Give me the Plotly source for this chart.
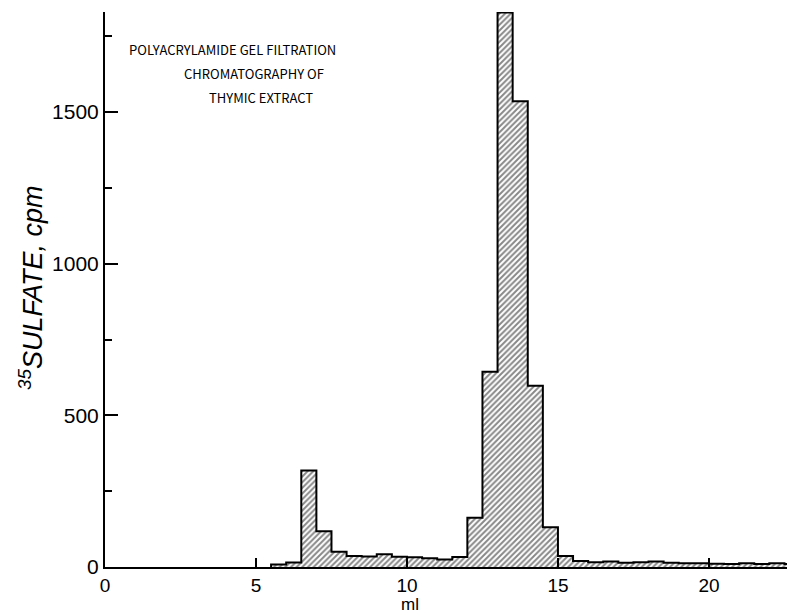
import plotly.graph_objects as go

# Fraction start positions (ml) - each fraction is 0.5 ml wide
ml_start = [5.5, 6.0, 6.5, 7.0, 7.5, 8.0, 8.5, 9.0, 9.5, 10.0, 10.5, 11.0, 11.5,
            12.0, 12.5, 13.0, 13.5, 14.0, 14.5, 15.0, 15.5, 16.0, 16.5, 17.0,
            17.5, 18.0, 18.5, 19.0, 19.5, 20.0, 20.5, 21.0, 21.5, 22.0, 22.5]
cpm = [8, 15, 318, 118, 50, 36, 35, 42, 34, 32, 29, 25, 33,
       162, 644, 1828, 1536, 598, 131, 36, 20, 16, 18, 14,
       16, 18, 14, 12, 12, 11, 10, 12, 10, 12, 10]
fraction_width = 0.5

x_ticks = [0, 5, 10, 15, 20]
y_ticks = [0, 500, 1000, 1500]
y_minor = [250, 750, 1250, 1750]

title_lines = ["POLYACRYLAMIDE GEL FILTRATION", "CHROMATOGRAPHY OF", "THYMIC EXTRACT"]

FONT = "Liberation Sans"
NARROW = "Noto Sans CJK SC"

# step outline of the histogram envelope, built from the data
step_x = [ml_start[0]] + ml_start + [ml_start[-1] + fraction_width]
step_y = [0] + cpm + [cpm[-1]]

fig = go.Figure()
fig.add_trace(go.Bar(
    x=ml_start, y=cpm, width=fraction_width, offset=0,
    marker=dict(
        color="white",
        line=dict(color="black", width=0),
        pattern=dict(shape="/", fgcolor="#111111", bgcolor="white", size=4, solidity=0.5),
    ),
    showlegend=False, hoverinfo="skip",
))
fig.add_trace(go.Scatter(
    x=step_x, y=step_y, mode="lines", line=dict(shape="hv", color="black", width=2),
    showlegend=False,
))

# page body has an 8px margin; compensate so plot area sits at x 105..795, y 12..567
fig.update_layout(
    width=787, height=605,
    margin=dict(l=97, r=0, t=4, b=46),
    paper_bgcolor="white", plot_bgcolor="white",
    bargap=0,
    font=dict(family=FONT, color="black"),
    xaxis=dict(
        range=[0, 22.85], tickvals=x_ticks, ticktext=[str(v) for v in x_ticks],
        ticks="inside", ticklen=9, tickwidth=1.5, tickcolor="black",
        showline=True, linecolor="black", linewidth=2,
        showgrid=False, zeroline=False,
        tickfont=dict(size=19, family=FONT),
    ),
    yaxis=dict(
        range=[0, 1830], tickvals=y_ticks, ticktext=[str(v) for v in y_ticks],
        ticks="inside", ticklen=13, tickwidth=2, tickcolor="black",
        showline=True, linecolor="black", linewidth=2,
        showgrid=False, zeroline=False,
        tickfont=dict(size=21, family=FONT),
        minor=dict(tickvals=y_minor, ticks="inside", ticklen=7,
                   tickwidth=1.5, tickcolor="black", showgrid=False),
    ),
)

# title lines placed individually (page pixel centres -> paper coords)
title_px = [(232, 50), (254, 74), (261, 97)]
for line, (px, py) in zip(title_lines, title_px):
    fig.add_annotation(
        text=line, xref="paper", yref="paper",
        x=(px - 105) / 690, y=(567 - py) / 555, xanchor="center", yanchor="middle",
        showarrow=False, font=dict(family=NARROW, size=13, color="black"),
    )

fig.add_annotation(
    text="<i><sup>35</sup>SULFATE, cpm</i>", xref="paper", yref="paper",
    x=(31 - 105) / 690, y=(567 - 288) / 555, xanchor="center", yanchor="middle",
    textangle=-90, showarrow=False,
    font=dict(family=FONT, size=27, color="black"),
)
fig.add_annotation(
    text="ml", xref="x", yref="paper",
    x=10.1, y=-(604 - 567) / 555, xanchor="center", yanchor="middle",
    showarrow=False, font=dict(family=FONT, size=17, color="black"),
    borderpad=0,
)

fig.write_html("out.html")
